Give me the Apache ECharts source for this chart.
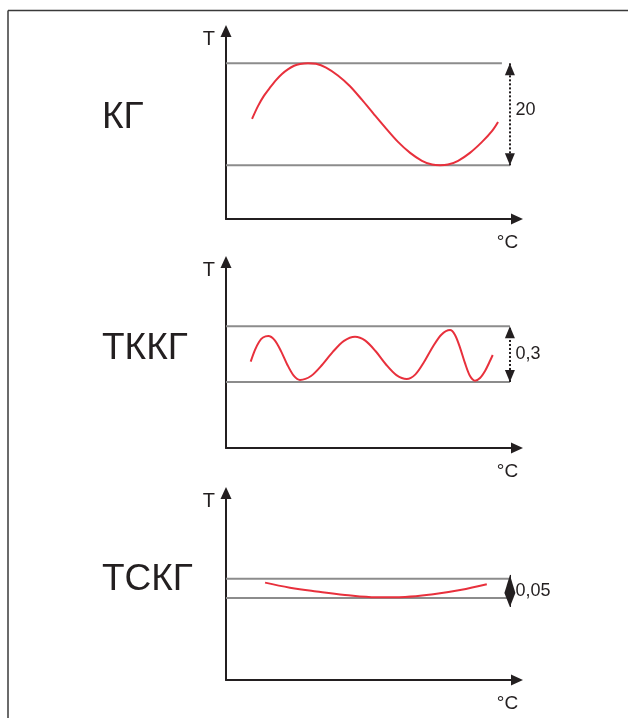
<!DOCTYPE html>
<html>
<head>
<meta charset="utf-8">
<script src="https://cdn.jsdelivr.net/npm/echarts@6/dist/echarts.min.js"></script>
<style>
html,body{margin:0;padding:0;background:#fff;}
#c{width:628px;height:718px;}
</style>
</head>
<body>
<div id="c"></div>
<script>
// ---- data ----
const panelNames = ['КГ', 'ТККГ', 'ТСКГ'];
const bandLabels = ['20', '0,3', '0,05'];

// КГ curve
const kgX = [8.8, 10.8, 12.8, 14.9, 16.9, 18.9, 20.9, 23.0, 25.0, 27.7, 30.4, 33.8, 37.8, 41.9, 45.9, 50.0, 54.1, 58.1, 62.2, 66.2, 69.6, 72.3, 75.0, 78.4, 82.4, 86.5, 89.9, 91.9];
const kgY = [19.6, 22.1, 24.1, 25.75, 27.2, 28.4, 29.3, 30.0, 30.35, 30.5, 30.4, 29.65, 28.1, 26.0, 23.35, 20.5, 17.7, 15.1, 12.95, 11.4, 10.65, 10.5, 10.65, 11.4, 12.95, 15.1, 17.25, 19.0];
const kgBand = [10.5, 30.5];

// ТККГ curve
const tkkgX = [8.34, 9.8, 11.15, 12.5, 14.29, 16.42, 18.58, 20.71, 22.87, 25.0, 28.72, 32.43, 36.15, 39.86, 43.58, 47.06, 50.57, 54.05, 57.57, 61.05, 63.99, 66.89, 69.83, 72.74, 75.68, 77.36, 79.05, 80.74, 82.43, 84.12, 85.81, 87.5, 88.85, 90.1];
const tkkgY = [0.464, 0.527, 0.570, 0.594, 0.602, 0.580, 0.521, 0.448, 0.389, 0.366, 0.387, 0.446, 0.518, 0.576, 0.598, 0.577, 0.520, 0.449, 0.392, 0.371, 0.396, 0.462, 0.543, 0.609, 0.634, 0.608, 0.540, 0.456, 0.387, 0.362, 0.376, 0.414, 0.457, 0.500];
const tkkgBand = [0.355, 0.655];

// ТСКГ curve
const tskgX = [13.2, 21.6, 30.6, 40.2, 50.9, 60.5, 70.0, 79.1, 88.1];
const tskgY = [0.252, 0.239, 0.229, 0.220, 0.214, 0.215, 0.222, 0.233, 0.248];
const tskgBand = [0.212, 0.262];

// axis ranges
const xMax = 98.3;
const yMaxes = [36.8, 1.0, 0.484];

// ---- styles ----
const INK = '#231f20';
const RED = '#e8303c';
const GRAY = '#8c8c8c';
const FONT = '"Liberation Sans", Arial, sans-serif';

const grids = [
  {left: 226, top: 31, width: 291, height: 188},
  {left: 226, top: 262, width: 291, height: 186},
  {left: 226, top: 493, width: 291, height: 187}
];
const arrowX = 95.9;
const bandEnds = [[95.9, 93.2], [95.9, 95.9], [95.9, 95.9]];
const labelY = [21.3, 0.505, 0.230];
const smoothness = [0.3, 0.3, 0.4];

const curves = [[kgX, kgY], [tkkgX, tkkgY], [tskgX, tskgY]];
const bands = [kgBand, tkkgBand, tskgBand];

const xAxes = [], yAxes = [], series = [];
for (let i = 0; i < 3; i++) {
  xAxes.push({
    type: 'value', gridIndex: i, min: 0, max: xMax,
    axisLine: {show: true, onZero: false, symbol: ['none', 'triangle'], symbolSize: [11, 12],
      lineStyle: {color: INK, width: 2}},
    axisTick: {show: false}, axisLabel: {show: false}, splitLine: {show: false},
    name: '°C', nameLocation: 'end', nameGap: -9.5,
    nameTextStyle: {color: INK, fontSize: 19, fontFamily: FONT, align: 'center', verticalAlign: 'top', padding: [14, 0, 0, 0]}
  });
  yAxes.push({
    type: 'value', gridIndex: i, min: 0, max: yMaxes[i],
    axisLine: {show: true, onZero: false, symbol: ['none', 'triangle'], symbolSize: [11, 12],
      lineStyle: {color: INK, width: 2}},
    axisTick: {show: false}, axisLabel: {show: false}, splitLine: {show: false},
    name: 'T', nameLocation: 'end', nameGap: -8,
    nameTextStyle: {color: INK, fontSize: 20, fontFamily: FONT, align: 'right', verticalAlign: 'middle', padding: [0, 11, 0, 0]}
  });

  const [lo, hi] = bands[i];
  // lower band line
  series.push({
    type: 'line', xAxisIndex: i, yAxisIndex: i, showSymbol: false, silent: true, z: 2,
    lineStyle: {color: GRAY, width: 2}, itemStyle: {color: GRAY},
    data: [[0, lo], [bandEnds[i][0], lo]]
  });
  let ml;
  if (i < 2) {
    ml = {
      silent: true, animation: false,
      symbol: ['triangle', 'triangle'], symbolSize: [10, 12], symbolOffset: [[0, 6], [0, 6]],
      label: {show: false},
      lineStyle: {color: INK, width: 2, type: 'dotted', opacity: 1},
      data: [[{coord: [arrowX, lo]}, {coord: [arrowX, hi]}]]
    };
  } else {
    const mid = 0.225;
    ml = {
      silent: true, animation: false,
      symbol: ['none', 'triangle'],
      label: {show: false},
      lineStyle: {color: INK, width: 1, type: 'solid', opacity: 1},
      data: [
        [{coord: [arrowX, mid]}, {coord: [arrowX, 0.272], symbolSize: [11, 18], symbolOffset: [0, 9]}],
        [{coord: [arrowX, mid]}, {coord: [arrowX, 0.189], symbolSize: [11, 14], symbolOffset: [0, 7]}]
      ]
    };
  }
  // upper band line + annotations
  series.push({
    type: 'line', xAxisIndex: i, yAxisIndex: i, showSymbol: false, silent: true, z: 2,
    lineStyle: {color: GRAY, width: 2}, itemStyle: {color: GRAY},
    data: [[0, hi], [bandEnds[i][1], hi]],
    markLine: ml,
    markPoint: {
      silent: true, animation: false,
      symbol: 'circle', symbolSize: 1, itemStyle: {color: 'rgba(0,0,0,0)'},
      label: {show: true, position: 'right', distance: 5, color: INK, fontSize: 18, fontFamily: FONT,
        formatter: bandLabels[i]},
      data: [{coord: [arrowX, labelY[i]]}]
    }
  });
  // curve
  const [cx, cy] = curves[i];
  series.push({
    type: 'line', xAxisIndex: i, yAxisIndex: i, showSymbol: false, silent: true, z: 3,
    smooth: smoothness[i],
    lineStyle: {color: RED, width: 2}, itemStyle: {color: RED},
    data: cx.map((x, k) => [x, cy[k]])
  });
}

const titleCenters = [120, 351, 582];
const graphics = [
  {type: 'line', shape: {x1: 8, y1: 10.5, x2: 628, y2: 10.5}, style: {stroke: '#3a3a3a', lineWidth: 1.5}},
  {type: 'line', shape: {x1: 8, y1: 10.5, x2: 8, y2: 718}, style: {stroke: '#3a3a3a', lineWidth: 1.5}}
];
panelNames.forEach((t, i) => {
  graphics.push({
    type: 'text', left: 102, top: titleCenters[i] - 21,
    style: {text: t, fill: INK, font: '37px ' + FONT}
  });
});

const chart = echarts.init(document.getElementById('c'));
chart.setOption({
  animation: false,
  backgroundColor: '#fff',
  grid: grids,
  xAxis: xAxes,
  yAxis: yAxes,
  series: series,
  graphic: graphics
});
</script>
</body>
</html>
